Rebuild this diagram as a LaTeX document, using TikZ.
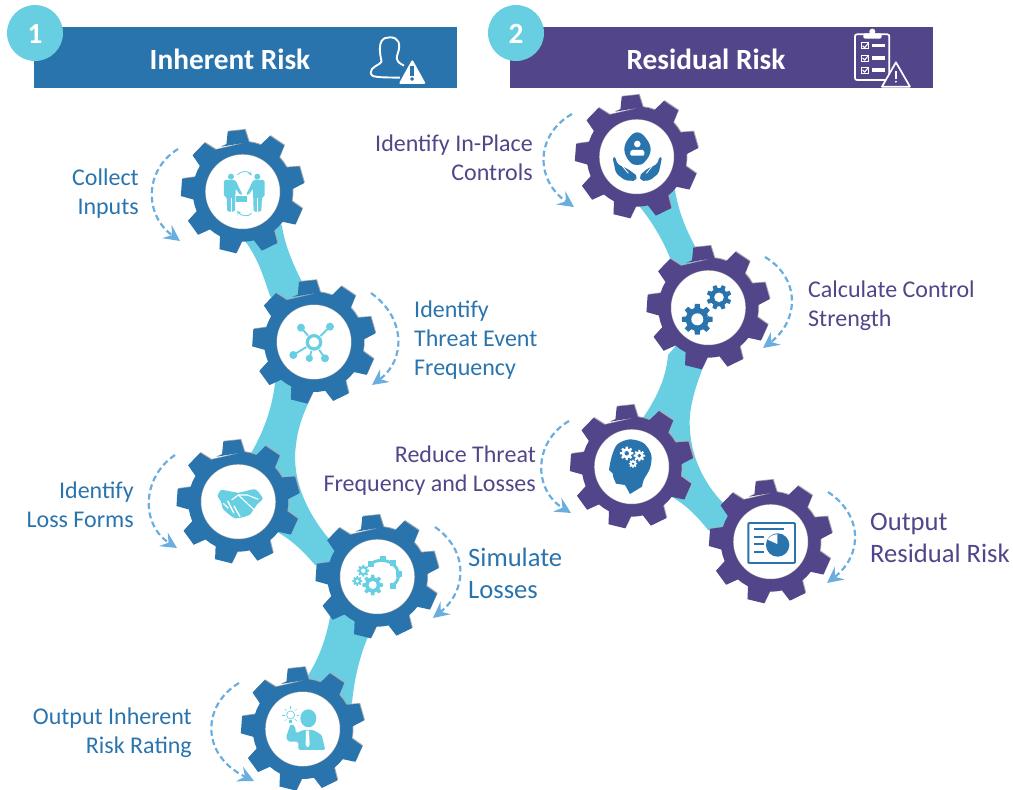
\documentclass[tikz,border=0pt]{standalone}
\usepackage{fontspec}
\setmainfont{Carlito}
\usetikzlibrary{arrows.meta}
\definecolor{riskblue}{HTML}{2A74AE}
\definecolor{riskpurple}{HTML}{534589}
\definecolor{bandcyan}{HTML}{68CFE3}
\definecolor{swingblue}{HTML}{6AAEDF}
\definecolor{gearedge}{HTML}{A9ABB0}
\tikzset{
    crop/.style 2 args={shift={(#1,#2)},x=.3333pt,y=-.3333pt},
    swing/.style={swingblue,line width=2.2pt,dash pattern=on 6pt off 3.5pt,-{Stealth[length=16pt,width=16pt,inset=6pt]}},
    bluetext/.style={text=riskblue,font=\fontsize{24}{29}\selectfont,inner sep=0pt},
    purpletext/.style={text=riskpurple,font=\fontsize{24}{29}\selectfont,inner sep=0pt},
    bigtext/.style={font=\fontsize{26.6}{32}\selectfont},
    titletext/.style={text=white,font=\fontsize{29.3}{30}\selectfont\bfseries,inner sep=0pt},
}
% centre, tip radius, root radius, teeth, rotation, look
\newcommand\cog[6]{%
    \begin{scope}[shift={(#1)}]
    \fill[#6] (#5-0.325*360/#4:#3pt) \foreach \k [evaluate=\k as \a using #5+\k*360/#4] in {1,...,#4} {
        -- (\a-0.325*360/#4:#3pt) -- (\a-0.2*360/#4:#2pt) -- (\a+0.2*360/#4:#2pt)
        -- (\a+0.325*360/#4:#3pt) -- (\a+0.5*360/#4:#3pt)} -- cycle;
    \end{scope}%
}
\newcommand\gearwheel[2]{%
    \cog{#1}{62}{50}{9}{96}{gearedge,xshift=.8pt,yshift=.8pt}%
    \cog{#1}{62}{50}{9}{96}{#2}%
    \fill[gearedge] (#1) circle (37.5pt);%
    \fill[white,yshift=.7pt] (#1) circle (37pt);%
}
\begin{document}
\begin{tikzpicture}[x=1pt,y=-1pt]
\useasboundingbox (0,0) rectangle (1013,790);

% bands behind the gears
\fill[bandcyan] (240,225) -- (245,241) .. controls (258,258) and (264,278) .. (270,296) -- (285,310) -- (310,300) -- (302,282) .. controls (292,262) and (285,245) .. (282,226) -- (275,215) -- cycle;
\fill[bandcyan] (285,365) -- (275,383) .. controls (272,410) and (262,435) .. (250,455) -- (245,480) -- (260,520) -- (277,532) .. controls (292,540) and (304,552) .. (315,565) -- (335,572) -- (345,550) -- (330,540) .. controls (300,505) and (292,470) .. (296,445) .. controls (298,425) and (305,410) .. (313,393) -- (312,375) -- cycle;
\fill[bandcyan] (345,600) -- (330,617) .. controls (326,640) and (318,660) .. (307,677) -- (306,690) -- (340,712) -- (352,703) .. controls (354,680) and (360,655) .. (368,637) -- (372,615) -- cycle;
\fill[bandcyan] (636,195) -- (640,207) .. controls (652,222) and (663,240) .. (670,258) -- (685,275) -- (702,275) -- (696,248) .. controls (686,230) and (678,210) .. (675,190) -- (665,180) -- cycle;
\fill[bandcyan] (685,335) -- (668,355) .. controls (666,380) and (655,400) .. (643,418) -- (640,440) -- (655,485) -- (672,497) .. controls (686,505) and (698,517) .. (708,530) -- (730,535) -- (740,520) -- (725,505) .. controls (695,475) and (688,440) .. (690,415) .. controls (692,395) and (700,375) .. (707,357) -- (705,340) -- cycle;

% header bars
\fill[riskblue] (34,27) rectangle (457,88);
\fill[riskpurple] (510,27) rectangle (933,88);
\fill[bandcyan] (35,33) circle (28pt);
\fill[bandcyan] (516,33) circle (28pt);
\node[titletext] (one) at (35,34) {1};
\node[titletext] (two) at (516,34) {2};
\node[titletext] (inherent title) at (230,59) {Inherent Risk};
\node[titletext] (residual title) at (706,59) {Residual Risk};

% user with warning
\begin{scope}[crop={0}{0}]
\draw[white,line width=1.9pt,line join=round] (1145,185) .. controls (1130,120) and (1150,112) .. (1170,112) .. controls (1195,112) and (1205,130) .. (1192,165) .. controls (1186,185) and (1200,190) .. (1212,197);
\draw[white,line width=1.9pt,line join=round] (1145,185) .. controls (1140,195) and (1112,200) .. (1112,218) .. controls (1112,232) and (1130,232) .. (1200,233);
\fill[white,rounded corners=2pt] (1237,178) -- (1278,252) -- (1196,252) -- cycle;
\fill[riskblue] (1231,198) rectangle (1242,228);
\fill[riskblue] (1236.5,237) circle (1.9pt);
\end{scope}

% clipboard with warning
\begin{scope}[crop={480}{0}]
\draw[white,line width=1.7pt,rounded corners=2pt] (1125,103) rectangle (1228,240);
\fill[white,rounded corners=2pt] (1150,100) rectangle (1205,116);
\fill[white] (1177,95) circle (3pt);
\foreach \rowy in {137,174,210} {
    \draw[white,line width=.9pt] (1145,\rowy-9) rectangle (1165,\rowy+9);
    \draw[white,line width=1.1pt] (1148,\rowy) -- (1154,\rowy+6) -- (1166,\rowy-8);
    \fill[white] (1175,\rowy-6) rectangle (1216,\rowy+5);
}
\filldraw[fill=riskpurple,draw=white,line width=1.7pt,line join=round] (1248,187) -- (1290,260) -- (1206,260) -- cycle;
\fill[white] (1245,213) rectangle (1251,238);
\fill[white] (1248,245) circle (1.1pt);
\end{scope}

% the gears
\coordinate (collect) at (242.7,191.7);
\coordinate (threat) at (314,342);
\coordinate (loss) at (238.3,501.7);
\coordinate (simulate) at (377.3,576.7);
\coordinate (rating) at (302.7,729);
\coordinate (controls) at (636.7,156.7);
\coordinate (strength) at (708.3,307.7);
\coordinate (reduce) at (631.7,466.7);
\coordinate (residual) at (770.7,541.7);
\gearwheel{collect}{riskblue}
\gearwheel{threat}{riskblue}
\gearwheel{loss}{riskblue}
\gearwheel{simulate}{riskblue}
\gearwheel{rating}{riskblue}
\gearwheel{controls}{riskpurple}
\gearwheel{strength}{riskpurple}
\gearwheel{reduce}{riskpurple}
\gearwheel{residual}{riskpurple}

% dashed swings
\draw[swing] (178,149) .. controls (144,170) and (144,215) .. (180,241);
\draw[swing] (371,293) .. controls (406,318) and (406,360) .. (372,385);
\draw[swing] (175,455) .. controls (141,478) and (141,525) .. (177,548);
\draw[swing] (435,527) .. controls (468,550) and (468,590) .. (433,618);
\draw[swing] (239,683) .. controls (202,705) and (200,755) .. (254,781);
\draw[swing] (572,114) .. controls (535,135) and (535,180) .. (574,207);
\draw[swing] (765,257) .. controls (800,278) and (800,320) .. (763,348);
\draw[swing] (569,421) .. controls (533,442) and (533,490) .. (571,513);
\draw[swing] (828,492) .. controls (863,515) and (863,555) .. (827,583);

% people with briefcase
\begin{scope}[crop={0}{0},bandcyan]
\fill (693,530) circle (3pt);
\fill (772,530) circle (3pt);
\fill[rounded corners=1.5pt] (672,540) -- (706,540) -- (728,585) -- (720,585) -- (707,565) -- (705,635) -- (682,635) -- (680,590) -- (672,590) -- cycle;
\fill[rounded corners=1.5pt] (794,540) -- (760,540) -- (738,585) -- (746,585) -- (759,565) -- (761,635) -- (784,635) -- (786,590) -- (794,590) -- cycle;
\fill[white] (692,595) rectangle (695,635);
\fill[white] (771,595) rectangle (774,635);
\fill (707,588) rectangle (740,607);
\draw[line width=.8pt,->,>=stealth] (712,525) .. controls (722,512) and (745,512) .. (755,527);
\draw[line width=.8pt,->,>=stealth] (755,640) .. controls (745,652) and (722,648) .. (712,632);
\end{scope}

% network hub
\begin{scope}[crop={240}{280},bandcyan]
\draw[line width=1.9pt] (183,143) -- (222,187) (270,140) -- (222,187) (160,225) -- (222,187) (208,235) -- (222,187) (255,235) -- (222,187);
\fill[white] (222,187) circle (9pt);
\draw[line width=3.2pt] (222,187) circle (6.7pt);
\fill (183,143) circle (4pt);
\fill (270,140) circle (4pt);
\fill (160,225) circle (4pt);
\fill (208,235) circle (3.6pt);
\fill (255,235) circle (4pt);
\end{scope}

% handshake
\begin{scope}[crop={160}{420}]
\fill[bandcyan] plot[smooth cycle,tension=.35] coordinates {(173,228) (185,210) (235,218) (285,208) (308,235) (290,255) (268,285) (225,295) (190,268) (183,245)};
\draw[white,line width=1.1pt] (215,240) -- (235,225) -- (262,225) -- (295,238);
\draw[white,line width=1.1pt] (235,225) -- (285,272);
\draw[white,line width=1.4pt] (190,250) -- (205,265) (203,243) -- (222,280) (222,258) -- (240,290);
\end{scope}

% arc with small gears
\begin{scope}[crop={160}{420}]
\draw[bandcyan,line width=3pt] (632,432) .. controls (665,405) and (722,430) .. (715,472) .. controls (712,485) and (705,492) .. (695,498);
\foreach \tx/\ty in {632/432,668/416,700/430,716/462,698/497} {
    \fill[bandcyan] (\tx-9,\ty-9) rectangle (\tx+9,\ty+9);
}
\end{scope}
\cog{363.3,570.7}{6}{4.3}{8}{0}{bandcyan}
\fill[white] (363.3,570.7) circle (2.2pt);
\cog{357.3,581}{5}{3.6}{8}{0}{bandcyan}
\fill[white] (357.3,581) circle (1.8pt);
\cog{372.7,585}{10.5}{7.6}{8}{0}{bandcyan}
\fill[white] (372.7,585) circle (4pt);

% man with bulb
\begin{scope}[crop={160}{420}]
\fill[bandcyan] (445,895) ellipse (8pt and 9pt);
\fill[bandcyan,rounded corners=1.5pt] (378,952) -- (392,912) -- (405,918) -- (408,940) -- (430,930) -- (460,930) -- (485,945) -- (496,990) -- (415,990) -- (415,965) -- (385,965) -- cycle;
\fill[white] (438,932) -- (447,932) -- (449,975) -- (443,982) -- (437,975) -- cycle;
\draw[bandcyan,line width=.7pt] (392,885) circle (4pt);
\fill[bandcyan] (387,899) rectangle (397,908);
\foreach \ray in {0,45,135,180,225,315,90} {
    \draw[bandcyan,line width=.5pt] (392,885) ++(\ray:6pt) -- ++(\ray:2.5pt);
}
\end{scope}

% egg held by hands
\begin{scope}[crop={560}{90},riskblue]
\fill plot[smooth cycle,tension=.7] coordinates {(232,127) (258,145) (272,180) (255,215) (232,225) (209,215) (193,180) (206,145)};
\fill[white] (232,162) circle (3.3pt);
\fill[white,rounded corners=1.5pt] (210,197) -- (212,180) -- (252,180) -- (254,197) -- cycle;
\fill[rounded corners=2pt] (158,203) -- (166,201) -- (172,222) -- (205,238) -- (232,258) -- (226,273) -- (195,271) -- (168,250) -- cycle;
\fill[rounded corners=2pt] (306,203) -- (298,201) -- (292,222) -- (259,238) -- (238,258) -- (244,273) -- (270,271) -- (296,250) -- cycle;
\draw[white,line width=.8pt] (182,222) -- (205,250) (282,222) -- (259,250);
\end{scope}

% two gears
\cog{697.3,319.3}{15.5}{11.5}{8}{0}{riskblue}
\fill[white] (697.3,319.3) circle (6pt);
\cog{719,297.3}{12.5}{9.2}{8}{22}{riskblue}
\fill[white] (719,297.3) circle (4.8pt);

% head with gears
\begin{scope}[crop={560}{390}]
\fill[riskblue] plot[smooth,tension=.5] coordinates {(147,240) (155,200) (172,163) (210,148) (252,160) (274,195) (270,235) (252,268) (246,290)} -- (210,312) -- (195,285) -- (168,281) -- (160,262) -- (158,250) -- cycle;
\end{scope}
\cog{626.7,453.3}{6.8}{4.8}{8}{0}{white}
\fill[riskblue] (626.7,453.3) circle (2.2pt);
\cog{639.3,455.7}{5.8}{4.1}{8}{0}{white}
\fill[riskblue] (639.3,455.7) circle (1.9pt);
\cog{633,463.7}{4.2}{3}{8}{0}{white}
\fill[riskblue] (633,463.7) circle (1.3pt);

% screen with pie
\begin{scope}[crop={560}{390},riskblue]
\draw[line width=1.9pt,rounded corners=1pt] (565,399) rectangle (705,519);
\draw[line width=1.7pt] (582,418) -- (672,418) (582,442) -- (612,442) (582,463) -- (612,463) (582,486) -- (612,486);
\fill (653,465) circle (11.7pt);
\fill[white] (652,433) -- (652,462) -- (623,449) .. controls (630,438) and (640,433) .. (652,433) -- cycle;
\end{scope}

% step labels
\node[bluetext,align=right,anchor=east] (collect label) at (139,193.5) {Collect\\Inputs};
\node[bluetext,align=left,anchor=west] (threat label) at (414,340) {Identify\\Threat Event\\Frequency};
\node[bluetext,align=right,anchor=east] (loss label) at (134,504.5) {Identify\\Loss Forms};
\node[bluetext,bigtext,align=left,anchor=west] (simulate label) at (468,573.5) {Simulate\\Losses};
\node[bluetext,align=right,anchor=east] (rating label) at (192,732.5) {Output Inherent\\Risk Rating};
\node[purpletext,align=right,anchor=east] (controls label) at (533,157.5) {Identify In-Place\\Controls};
\node[purpletext,align=left,anchor=west] (strength label) at (808,305.5) {Calculate Control\\Strength};
\node[purpletext,align=right,anchor=east] (reduce label) at (536,470.5) {Reduce Threat\\Frequency and Losses};
\node[purpletext,bigtext,align=left,anchor=west] (residual label) at (870,537.5) {Output\\Residual Risk};

\end{tikzpicture}
\end{document}
